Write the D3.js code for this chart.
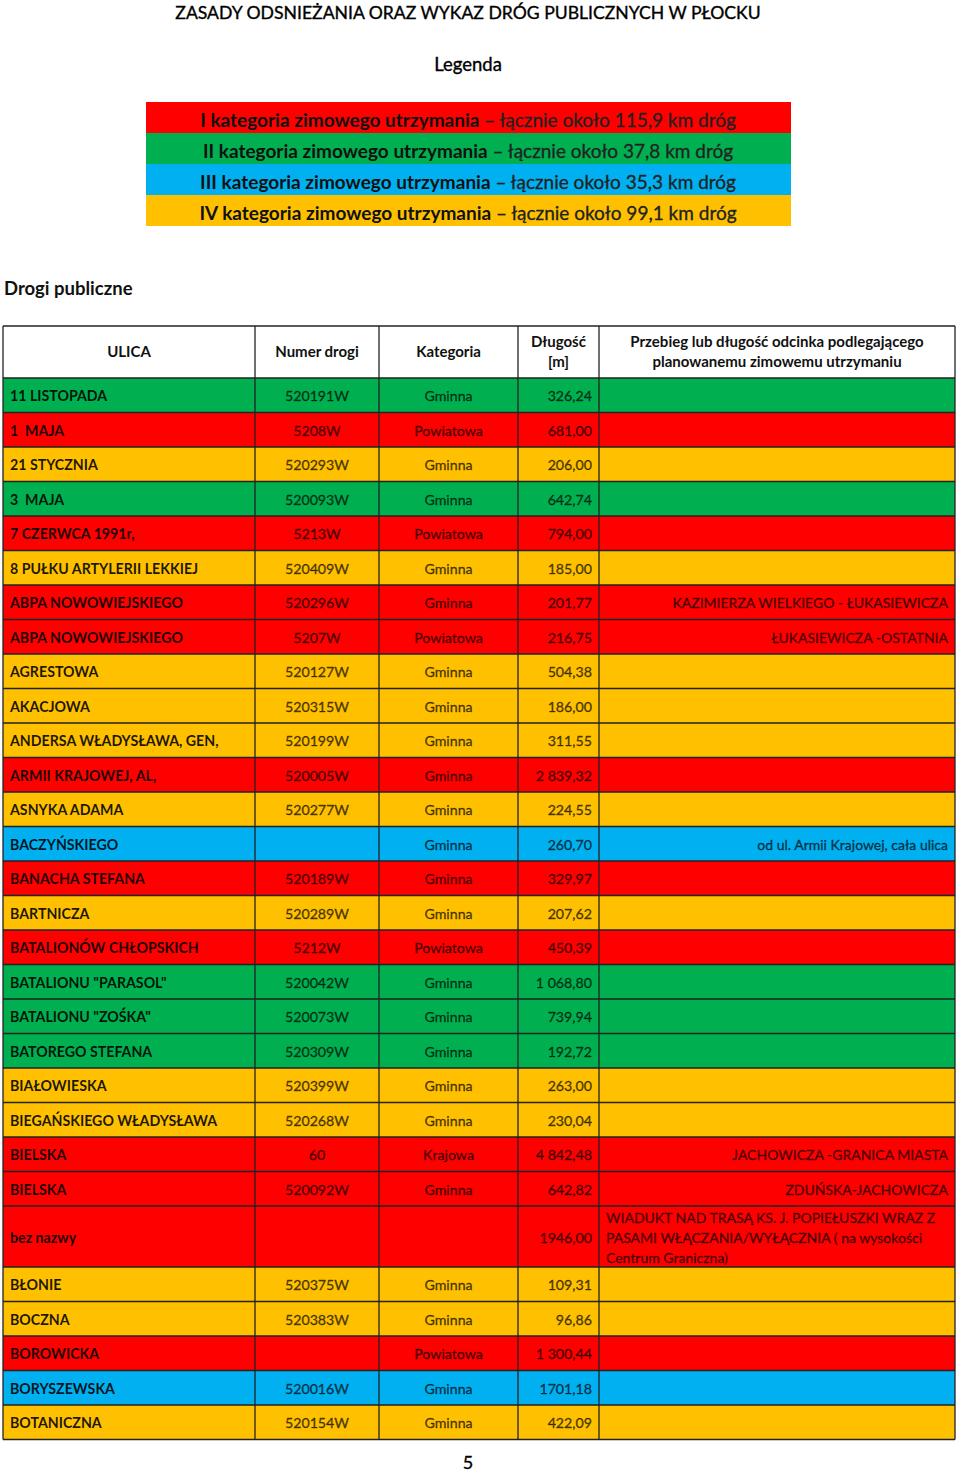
<!DOCTYPE html>
<html>
<head>
<meta charset="utf-8">
<script src="https://cdn.jsdelivr.net/npm/d3@7"></script>
<style>
body { margin: 0; background: #fff; }
svg text { font-family: Lato, "Open Sans", sans-serif; white-space: pre; }
</style>
</head>
<body>
<div id="holder"></div>
<script>
const w = 960;
const h = 1474;

// DATA
const legendLevels = ["I", "II", "III", "IV"];
const legendKm = ["115,9", "37,8", "35,3", "99,1"];

const streets = ["11 LISTOPADA", "1  MAJA", "21 STYCZNIA", "3  MAJA", "7 CZERWCA 1991r,", "8 PUŁKU ARTYLERII LEKKIEJ",
    "ABPA NOWOWIEJSKIEGO", "ABPA NOWOWIEJSKIEGO", "AGRESTOWA", "AKACJOWA", "ANDERSA WŁADYSŁAWA, GEN,",
    "ARMII KRAJOWEJ, AL,", "ASNYKA ADAMA", "BACZYŃSKIEGO", "BANACHA STEFANA", "BARTNICZA", "BATALIONÓW CHŁOPSKICH",
    "BATALIONU \"PARASOL\"", "BATALIONU \"ZOŚKA\"", "BATOREGO STEFANA", "BIAŁOWIESKA", "BIEGAŃSKIEGO WŁADYSŁAWA",
    "BIELSKA", "BIELSKA", "bez nazwy", "BŁONIE", "BOCZNA", "BOROWICKA", "BORYSZEWSKA", "BOTANICZNA"];
const roadNumbers = ["520191W", "5208W", "520293W", "520093W", "5213W", "520409W", "520296W", "5207W", "520127W",
    "520315W", "520199W", "520005W", "520277W", "", "520189W", "520289W", "5212W", "520042W", "520073W", "520309W",
    "520399W", "520268W", "60", "520092W", "", "520375W", "520383W", "", "520016W", "520154W"];
const roadCategories = ["Gminna", "Powiatowa", "Gminna", "Gminna", "Powiatowa", "Gminna", "Gminna", "Powiatowa",
    "Gminna", "Gminna", "Gminna", "Gminna", "Gminna", "Gminna", "Gminna", "Gminna", "Powiatowa", "Gminna", "Gminna",
    "Gminna", "Gminna", "Gminna", "Krajowa", "Gminna", "", "Gminna", "Gminna", "Powiatowa", "Gminna", "Gminna"];
const lengths = ["326,24", "681,00", "206,00", "642,74", "794,00", "185,00", "201,77", "216,75", "504,38", "186,00",
    "311,55", "2 839,32", "224,55", "260,70", "329,97", "207,62", "450,39", "1 068,80", "739,94", "192,72", "263,00",
    "230,04", "4 842,48", "642,82", "1946,00", "109,31", "96,86", "1 300,44", "1701,18", "422,09"];
const sections = ["", "", "", "", "", "", "KAZIMIERZA WIELKIEGO - ŁUKASIEWICZA", "ŁUKASIEWICZA -OSTATNIA", "", "", "",
    "", "", "od ul. Armii Krajowej, cała ulica", "", "", "", "", "", "", "", "", "JACHOWICZA -GRANICA MIASTA",
    "ZDUŃSKA-JACHOWICZA",
    "WIADUKT NAD TRASĄ KS. J. POPIEŁUSZKI WRAZ Z|PASAMI WŁĄCZANIA/WYŁĄCZNIA ( na wysokości|Centrum Graniczna)",
    "", "", "", "", ""];
const winterLevels = ["II", "I", "IV", "II", "I", "IV", "I", "I", "IV", "IV", "IV", "I", "IV", "III", "I", "IV", "I",
    "II", "II", "II", "IV", "IV", "I", "I", "I", "IV", "IV", "I", "III", "IV"];
const headers = ["ULICA", "Numer drogi", "Kategoria", "Długość|[m]",
    "Przebieg lub długość odcinka podlegającego|planowanemu zimowemu utrzymaniu"];

const color = d3.scaleOrdinal()
    .domain(legendLevels)
    .range(["#ff0000", "#00b050", "#00b0f0", "#ffc000"]);

const svg = d3.select("#holder")
    .append("svg")
    .attr("width", w)
    .attr("height", h);

// small helper: regular text a bit heavier, like the original
function thicken(sel, c) {
    return sel.attr("stroke", c).attr("stroke-width", 0.35).attr("paint-order", "stroke");
}

// TITLES
thicken(svg.append("text")
    .attr("x", 468).attr("y", 19)
    .attr("text-anchor", "middle")
    .attr("font-size", 17.6)
    .attr("fill", "#000")
    .text("ZASADY ODSNIEŻANIA ORAZ WYKAZ DRÓG PUBLICZNYCH W PŁOCKU"), "#000");

thicken(svg.append("text")
    .attr("x", 468).attr("y", 71)
    .attr("text-anchor", "middle")
    .attr("font-size", 18.5)
    .attr("fill", "#000")
    .text("Legenda"), "#000");

// LEGEND
const legY = d3.scaleBand().domain(legendLevels).range([102, 226]);

const leg = svg.selectAll(".leg")
    .data(legendLevels)
    .enter().append("g")
    .attr("class", "leg");

leg.append("rect")
    .attr("x", 146).attr("width", 645)
    .attr("y", d => legY(d))
    .attr("height", legY.bandwidth())
    .attr("fill", d => color(d));

const legText = leg.append("text")
    .attr("x", 468)
    .attr("y", d => legY(d) + legY.bandwidth() / 2 + 9)
    .attr("text-anchor", "middle")
    .attr("font-size", 19)
    .attr("fill", "#111");

legText.append("tspan")
    .attr("font-weight", "bold")
    .text(d => d + " kategoria zimowego utrzymania");
legText.append("tspan")
    .attr("fill", "#222")
    .attr("stroke", "#222").attr("stroke-width", 0.3)
    .text((d, i) => " – łącznie około " + legendKm[i] + " km dróg");

svg.append("text")
    .attr("x", 4).attr("y", 295)
    .attr("font-size", 18.5)
    .attr("font-weight", "bold")
    .attr("fill", "#111")
    .text("Drogi publiczne");

// TABLE
const colEdges = [3, 255, 379, 518, 599, 955];
const baseRow = 34.5;
const lineStep = 13.25;

const rows = streets.map((s, i) => ({
    street: s,
    number: roadNumbers[i],
    cat: roadCategories[i],
    len: lengths[i],
    sec: sections[i] ? sections[i].split("|") : [],
    level: winterLevels[i]
}));

// row positions built from heights
let y0 = 378;
rows.forEach(r => {
    const lines = Math.max(1, r.sec.length);
    r.y = y0;
    r.h = baseRow + (lines - 1) * lineStep;
    y0 += r.h;
});

// header
const headerTop = 326, headerBottom = 378;
svg.append("rect")
    .attr("x", colEdges[0]).attr("y", headerTop)
    .attr("width", colEdges[5] - colEdges[0]).attr("height", headerBottom - headerTop)
    .attr("fill", "#fff");

headers.forEach((hd, c) => {
    const parts = hd.split("|");
    const cx = (colEdges[c] + colEdges[c + 1]) / 2;
    const t = svg.append("text")
        .attr("text-anchor", "middle")
        .attr("font-size", 15)
        .attr("font-weight", "bold")
        .attr("fill", "#111");
    parts.forEach((p, k) => {
        t.append("tspan")
            .attr("x", cx)
            .attr("y", (headerTop + headerBottom) / 2 + 5 + (k - (parts.length - 1) / 2) * 20)
            .text(p);
    });
});

const row = svg.selectAll(".row")
    .data(rows)
    .enter().append("g")
    .attr("class", "row");

row.append("rect")
    .attr("x", colEdges[0])
    .attr("y", d => d.y)
    .attr("width", colEdges[5] - colEdges[0])
    .attr("height", d => d.h)
    .attr("fill", d => color(d.level));

const mid = d => d.y + d.h / 2 + 6;
const regFill = "rgba(0,0,0,0.68)";

row.append("text")
    .attr("x", 10).attr("y", mid)
    .attr("font-size", 14.2)
    .attr("font-weight", "bold")
    .attr("fill", "rgba(0,0,0,0.88)")
    .text(d => d.street);

thicken(row.append("text")
    .attr("x", (colEdges[1] + colEdges[2]) / 2).attr("y", mid)
    .attr("text-anchor", "middle")
    .attr("font-size", 14.2)
    .attr("fill", regFill)
    .text(d => d.number), regFill);

thicken(row.append("text")
    .attr("x", (colEdges[2] + colEdges[3]) / 2).attr("y", mid)
    .attr("text-anchor", "middle")
    .attr("font-size", 14.2)
    .attr("fill", regFill)
    .text(d => d.cat), regFill);

thicken(row.append("text")
    .attr("x", colEdges[4] - 7).attr("y", mid)
    .attr("text-anchor", "end")
    .attr("font-size", 14.2)
    .attr("fill", regFill)
    .text(d => d.len), regFill);

const secText = thicken(row.append("text")
    .attr("font-size", 14)
    .attr("fill", regFill)
    .attr("text-anchor", d => d.sec.length > 1 ? "start" : "end"), regFill);

secText.each(function (d) {
    const t = d3.select(this);
    d.sec.forEach((p, k) => {
        t.append("tspan")
            .attr("x", d.sec.length > 1 ? colEdges[4] + 7 : colEdges[5] - 7)
            .attr("y", mid(d) + (k - (d.sec.length - 1) / 2) * 20)
            .text(p);
    });
});

// GRID LINES
const tableBottom = y0;
const hLines = [headerTop, headerBottom].concat(rows.map(r => r.y + r.h));
svg.selectAll(".hline")
    .data(hLines)
    .enter().append("line")
    .attr("x1", colEdges[0]).attr("x2", colEdges[5])
    .attr("y1", d => d).attr("y2", d => d)
    .attr("stroke", "#222").attr("stroke-width", 1.3);

svg.selectAll(".vline")
    .data(colEdges)
    .enter().append("line")
    .attr("x1", d => d).attr("x2", d => d)
    .attr("y1", headerTop)
    .attr("y2", tableBottom)
    .attr("stroke", "#222").attr("stroke-width", 1.3);

// PAGE NUMBER
thicken(svg.append("text")
    .attr("x", 468).attr("y", 1469)
    .attr("text-anchor", "middle")
    .attr("font-size", 18)
    .attr("fill", "#000")
    .text("5"), "#000");
</script>
</body>
</html>
